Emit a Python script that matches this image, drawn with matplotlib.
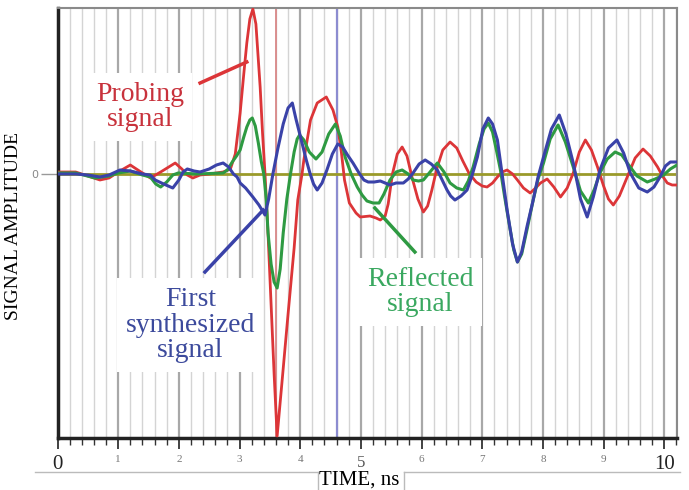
import matplotlib
matplotlib.use("Agg")
import matplotlib.pyplot as plt
from matplotlib.lines import Line2D
import numpy as np

# values (time in ns, amplitude in arbitrary units)
probing_t = [0.00, 0.15, 0.30, 0.50, 0.70, 0.85, 1.00, 1.20, 1.35, 1.53, 1.70, 1.94,
             2.05, 2.14, 2.23, 2.35, 2.50, 2.73, 2.85, 2.93, 3.01, 3.07, 3.12, 3.17,
             3.22, 3.27, 3.34, 3.38, 3.42, 3.47, 3.52, 3.57, 3.62, 3.70, 3.80, 3.90,
             3.96, 4.03, 4.06, 4.17, 4.28, 4.43, 4.54, 4.62, 4.68, 4.73, 4.81, 4.92,
             4.99, 5.15, 5.25, 5.32, 5.40, 5.45, 5.52, 5.60, 5.68, 5.76, 5.85, 5.94,
             6.03, 6.10, 6.17, 6.25, 6.35, 6.47, 6.58, 6.68, 6.78, 6.90, 7.00, 7.08,
             7.17, 7.25, 7.33, 7.41, 7.50, 7.58, 7.68, 7.79, 7.88, 7.96, 8.07, 8.18,
             8.29, 8.40, 8.50, 8.60, 8.70, 8.80, 8.90, 9.00, 9.08, 9.16, 9.26, 9.39,
             9.52, 9.65, 9.77, 9.89, 9.97, 10.05, 10.13, 10.21]
probing_a = [0.02, 0.02, 0.02, -0.02, -0.06, -0.04, 0.02, 0.09, 0.03, -0.04, 0.02, 0.11,
             0.05, -0.01, -0.04, -0.01, 0.00, 0.02, 0.05, 0.20, 0.61, 1.00, 1.31, 1.55,
             1.65, 1.50, 0.87, 0.40, 0.00, -0.60, -1.30, -2.00, -2.62, -2.08, -1.40, -0.74,
             -0.26, 0.00, 0.14, 0.54, 0.71, 0.77, 0.64, 0.47, 0.21, -0.06, -0.29, -0.39,
             -0.43, -0.42, -0.44, -0.46, -0.42, -0.30, 0.00, 0.20, 0.27, 0.18, -0.05, -0.25,
             -0.38, -0.32, -0.16, 0.05, 0.24, 0.32, 0.26, 0.13, 0.01, -0.08, -0.12, -0.13,
             -0.09, -0.03, 0.02, 0.04, 0.00, -0.06, -0.14, -0.19, -0.14, -0.09, -0.05, -0.13,
             -0.23, -0.14, 0.01, 0.22, 0.34, 0.24, 0.07, -0.12, -0.25, -0.31, -0.22, -0.03,
             0.16, 0.25, 0.18, 0.07, -0.02, -0.09, -0.11, -0.11]

reflected_t = [0.00, 0.30, 0.62, 0.85, 1.00, 1.20, 1.40, 1.53, 1.62, 1.70, 1.80, 1.90,
               1.99, 2.30, 2.73, 2.80, 2.88, 2.95, 3.01, 3.07, 3.12, 3.17, 3.21, 3.26,
               3.31, 3.36, 3.40, 3.44, 3.47, 3.52, 3.57, 3.62, 3.67, 3.72, 3.78, 3.84,
               3.90, 3.95, 3.99, 4.06, 4.15, 4.26, 4.36, 4.47, 4.58, 4.66, 4.74, 4.84,
               4.94, 5.02, 5.10, 5.20, 5.30, 5.38, 5.48, 5.58, 5.68, 5.78, 5.86, 5.95,
               6.03, 6.14, 6.26, 6.37, 6.47, 6.58, 6.69, 6.77, 6.85, 6.95, 7.03, 7.10,
               7.17, 7.24, 7.30, 7.37, 7.45, 7.52, 7.58, 7.65, 7.74, 7.84, 7.92, 8.01,
               8.12, 8.25, 8.37, 8.50, 8.62, 8.75, 8.85, 8.94, 9.06, 9.19, 9.30, 9.39,
               9.55, 9.72, 9.85, 9.99, 10.10, 10.21]
reflected_a = [0.01, 0.01, -0.04, -0.02, 0.01, 0.03, -0.01, -0.03, -0.10, -0.13, -0.08, -0.01,
               0.01, 0.00, 0.01, 0.04, 0.12, 0.18, 0.24, 0.37, 0.47, 0.54, 0.56, 0.48,
               0.31, 0.12, 0.00, -0.25, -0.59, -0.90, -1.08, -1.14, -0.95, -0.59, -0.25, 0.00,
               0.22, 0.35, 0.39, 0.34, 0.22, 0.15, 0.22, 0.40, 0.50, 0.38, 0.17, 0.00,
               -0.13, -0.21, -0.27, -0.29, -0.29, -0.20, -0.06, 0.02, 0.04, 0.00, -0.06, -0.07,
               -0.06, 0.02, 0.11, 0.02, -0.09, -0.14, -0.16, -0.07, 0.07, 0.30, 0.45, 0.51,
               0.42, 0.22, 0.04, -0.23, -0.52, -0.76, -0.88, -0.80, -0.55, -0.26, -0.05, 0.11,
               0.35, 0.49, 0.32, 0.07, -0.17, -0.29, -0.15, 0.01, 0.15, 0.22, 0.19, 0.11,
               -0.02, -0.08, -0.05, -0.01, 0.05, 0.09]

synth_t = [0.00, 0.30, 0.50, 0.70, 0.85, 1.03, 1.20, 1.40, 1.53, 1.61, 1.75, 1.90,
           2.00, 2.07, 2.14, 2.25, 2.35, 2.50, 2.62, 2.73, 2.82, 2.90, 2.96, 3.01,
           3.10, 3.22, 3.32, 3.42, 3.48, 3.55, 3.63, 3.72, 3.80, 3.87, 3.93, 4.03,
           4.10, 4.16, 4.22, 4.28, 4.36, 4.44, 4.53, 4.62, 4.70, 4.78, 4.87, 4.97,
           5.05, 5.12, 5.22, 5.32, 5.40, 5.48, 5.58, 5.70, 5.78, 5.86, 5.96, 6.06,
           6.16, 6.26, 6.34, 6.42, 6.48, 6.55, 6.65, 6.75, 6.84, 6.92, 7.01, 7.10,
           7.17, 7.25, 7.33, 7.41, 7.50, 7.58, 7.65, 7.74, 7.84, 7.92, 8.01, 8.14,
           8.27, 8.38, 8.50, 8.62, 8.73, 8.83, 8.94, 9.08, 9.22, 9.33, 9.44, 9.58,
           9.72, 9.83, 9.93, 10.02, 10.10, 10.21]
synth_a = [0.00, 0.00, -0.01, -0.03, -0.01, 0.04, 0.03, 0.00, -0.01, -0.06, -0.10, -0.14,
           -0.06, 0.02, 0.05, 0.03, 0.02, 0.05, 0.09, 0.11, 0.07, 0.00, -0.03, -0.09,
           -0.14, -0.23, -0.31, -0.41, -0.25, 0.00, 0.25, 0.50, 0.66, 0.71, 0.55, 0.31,
           0.14, 0.01, -0.10, -0.16, -0.09, 0.04, 0.20, 0.30, 0.27, 0.19, 0.11, 0.01,
           -0.06, -0.08, -0.08, -0.07, -0.09, -0.11, -0.09, -0.09, -0.05, 0.01, 0.10, 0.14,
           0.10, 0.04, -0.06, -0.16, -0.22, -0.26, -0.22, -0.16, 0.00, 0.17, 0.45, 0.56,
           0.50, 0.34, -0.01, -0.36, -0.70, -0.88, -0.78, -0.52, -0.26, -0.03, 0.17, 0.45,
           0.59, 0.40, 0.11, -0.25, -0.43, -0.23, 0.04, 0.26, 0.34, 0.21, 0.01, -0.14,
           -0.18, -0.13, -0.03, 0.08, 0.12, 0.12]

x_labels = ["0", "1", "2", "3", "4", "5", "6", "7", "8", "9", "10"]
red_marker_t = 3.6
blue_marker_t = 4.6

RED = "#dc3538"
GREEN = "#2e9a42"
BLUE = "#3a42a8"
SERIF = "Liberation Serif"

fig = plt.figure(figsize=(6.89, 4.90), dpi=100)
ax = fig.add_axes([57.5 / 689, 52 / 490, 619.5 / 689, 430 / 490])

ax.set_xlim(0, 10.21)
ax.set_ylim(-2.64, 1.66)

# vertical grid: light every 0.2 ns, darker every ns
for t in np.arange(0.2, 10.21, 0.2):
    if abs(t - round(t)) < 1e-6:
        ax.axvline(t, color="#a8a8a8", lw=1.6, zorder=0)
    else:
        ax.axvline(t, color="#d4d4d4", lw=1.0, zorder=0)

ax.axvline(red_marker_t, color="#d98888", lw=1.3, zorder=1)
ax.axvline(blue_marker_t, color="#8c8cd0", lw=1.6, zorder=1)
ax.axhline(0, color="#9a9a2a", lw=2, zorder=2)

kw = dict(solid_joinstyle="round", solid_capstyle="round")
ax.plot(probing_t, probing_a, color=RED, lw=2.0, zorder=3, **kw)
ax.plot(reflected_t, reflected_a, color=GREEN, lw=2.2, zorder=4, **kw)
ax.plot(synth_t, synth_a, color=BLUE, lw=2.2, zorder=5, **kw)

# callout text + pointer lines
box = dict(facecolor="white", edgecolor="none", pad=6)
ax.text(1.36, 0.67, "Probing\nsignal", color="#c8323c", fontsize=20, family=SERIF,
        ha="center", va="center", linespacing=1.05, bbox=box, zorder=6)
ax.plot([2.35, 3.12], [0.91, 1.12], color=RED, lw=2.5, zorder=6)

ax.text(2.19, -1.51, "First\nsynthesized\nsignal", color="#3c4a9c", fontsize=20,
        family=SERIF, ha="center", va="center", linespacing=1.05, bbox=box, zorder=6)
ax.plot([2.43, 3.39], [-0.98, -0.36], color=BLUE, lw=2.5, zorder=6)

ax.text(5.98, -1.18, "Reflected\nsignal", color="#3aa860", fontsize=20, family=SERIF,
        ha="center", va="center", linespacing=1.05, bbox=box, zorder=6)
ax.plot([5.23, 5.89], [-0.34, -0.78], color=GREEN, lw=2.5, zorder=6)

# ticks
ax.set_xticks(range(11))
ax.set_xticks(np.arange(0, 10.21, 0.2), minor=True)
ax.tick_params(axis="x", which="major", length=8, width=1.3, color="#333333", pad=4)
ax.tick_params(axis="x", which="minor", length=5, width=1.0, color="#333333")
ax.set_xticklabels(x_labels)
for i, lab in enumerate(ax.get_xticklabels()):
    lab.set_family(SERIF)
    if i in (0, 10):
        lab.set_fontsize(15)
        lab.set_color("#222222")
    elif i == 5:
        lab.set_fontsize(12)
        lab.set_color("#555555")
    else:
        lab.set_fontsize(8)
        lab.set_color("#777777")

ax.set_yticks([0])
ax.set_yticklabels(["0"], fontsize=8, color="#888888")
ax.tick_params(axis="y", length=12, width=1, color="#999999", pad=2)

for side in ("left", "bottom"):
    ax.spines[side].set_color("#222222")
    ax.spines[side].set_linewidth(2.5)
for side in ("top", "right"):
    ax.spines[side].set_color("#8a8a8a")
    ax.spines[side].set_linewidth(1.5)

ax.set_ylabel("SIGNAL AMPLITUDE", fontsize=14, family=SERIF)
ax.yaxis.set_label_coords(-0.057, 0.493)
fig.text(359 / 689, 1 - 480 / 490, "TIME, ns", fontsize=15, family=SERIF,
         ha="center", va="center")

# thin frame pieces around the x label
fig.add_artist(Line2D([35 / 689, 318 / 689], [1 - 472 / 490] * 2, color="#bbbbbb", lw=1))
fig.add_artist(Line2D([404 / 689, 680 / 689], [1 - 472 / 490] * 2, color="#bbbbbb", lw=1))
fig.add_artist(Line2D([318 / 689] * 2, [1 - 472 / 490, 0], color="#bbbbbb", lw=1))
fig.add_artist(Line2D([404 / 689] * 2, [1 - 472 / 490, 0], color="#bbbbbb", lw=1))

fig.savefig("out.png", dpi=100)
